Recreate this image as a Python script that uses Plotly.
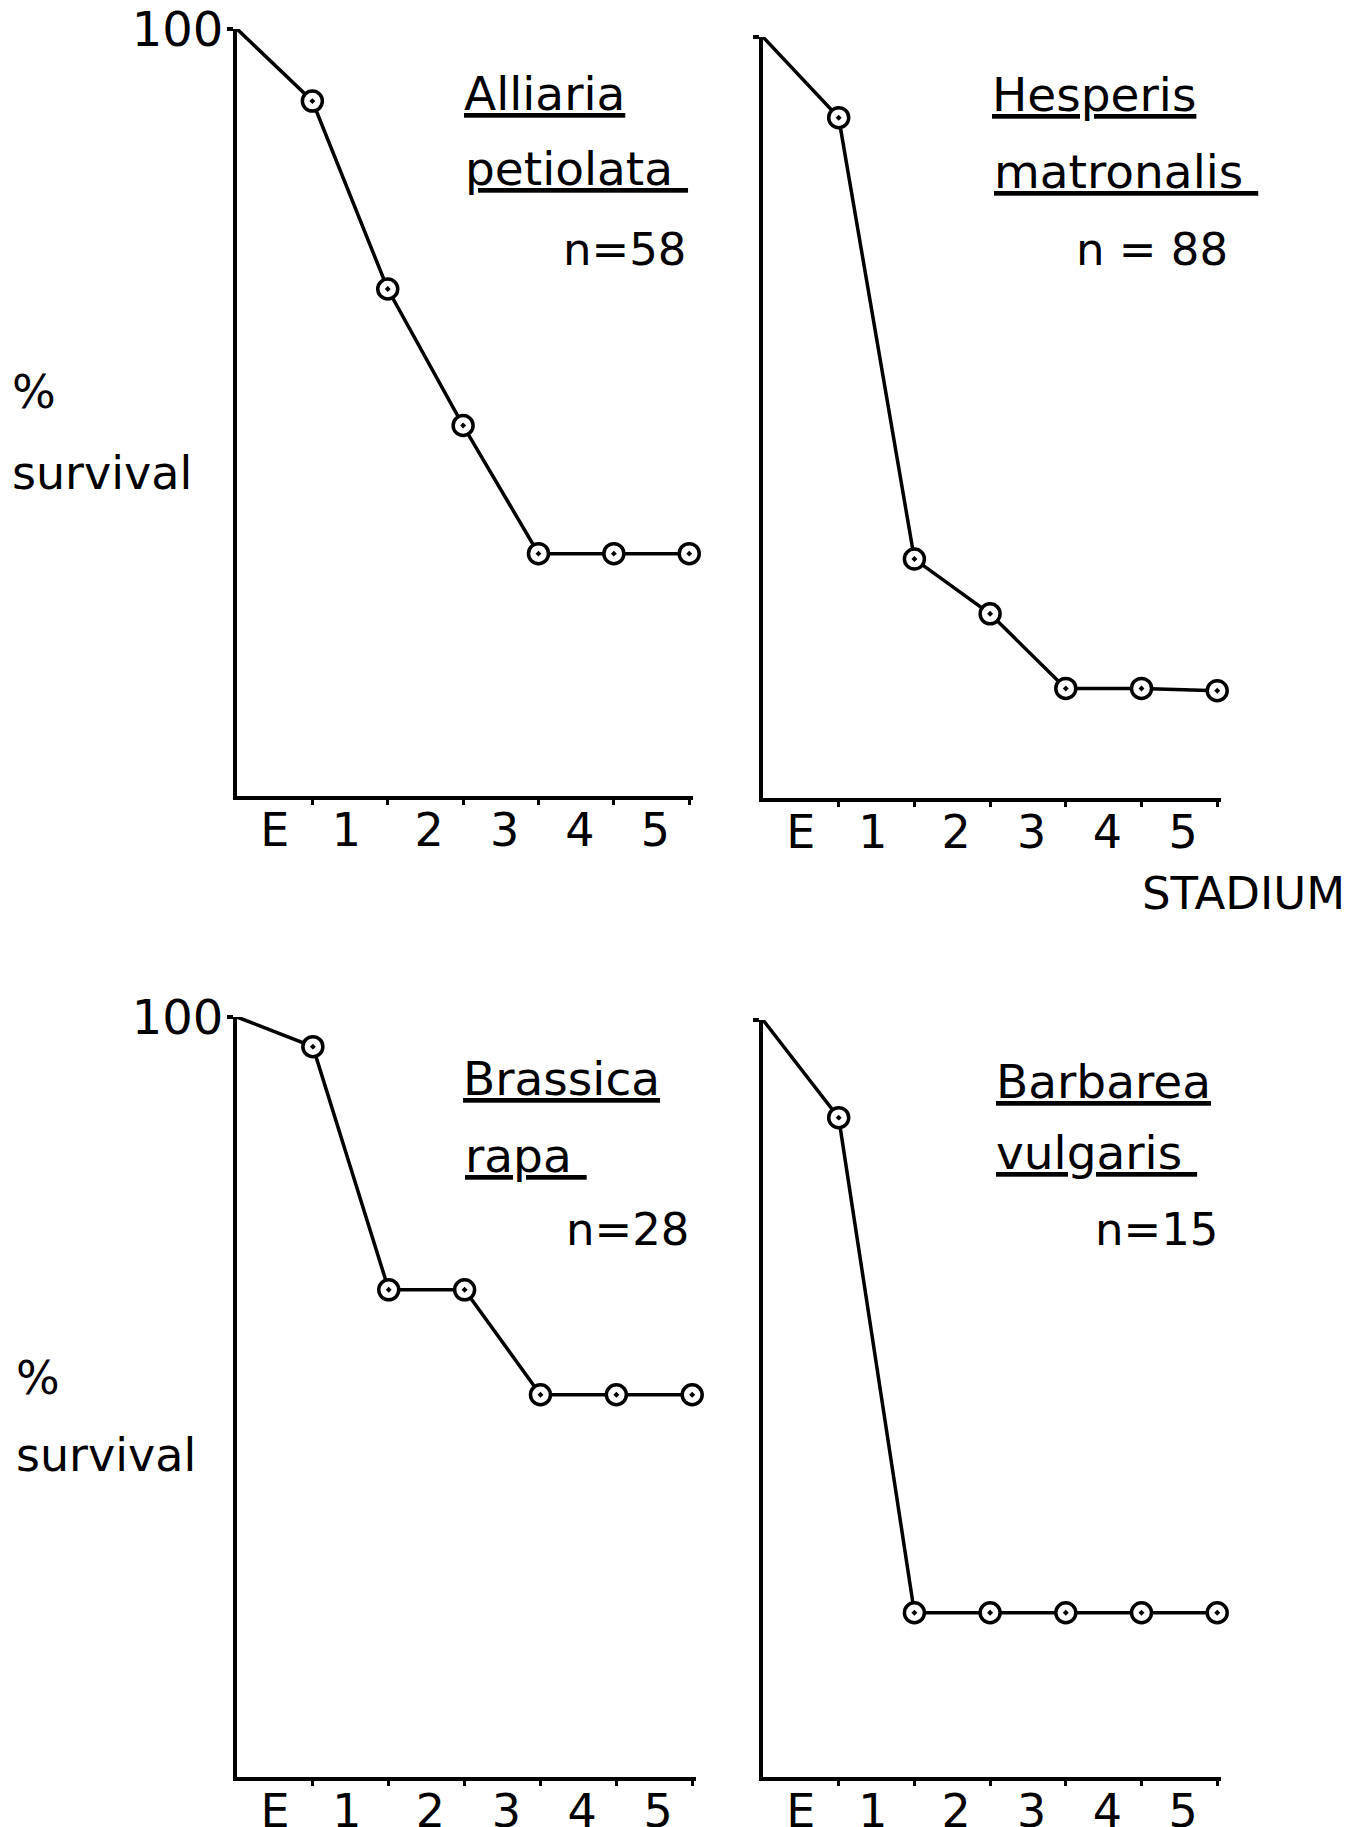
import plotly.graph_objects as go

# page has an 8px body margin; figure is sized to fit the window
OFF = 8
W, H = 1368 - OFF, 1827 - OFF

# ---------------- data ----------------
stage_labels = ["E", "1", "2", "3", "4", "5"]
stage_label_pos = [0.5, 1.45, 2.55, 3.55, 4.55, 5.55]
stage_bounds = [0, 1, 2, 3, 4, 5, 6]

genus = ["Alliaria", "Hesperis", "Brassica", "Barbarea"]
epithet = ["petiolata ", "matronalis ", "rapa ", "vulgaris "]
sample_size = ["n=58", "n = 88", "n=28", "n=15"]

alliaria = [100, 90.6, 66.1, 48.3, 31.6, 31.6, 31.6]
hesperis = [100, 89.4, 31.4, 24.2, 14.4, 14.4, 14.1]
brassica = [100, 96.1, 64.1, 64.1, 50.3, 50.3, 50.3]
barbarea = [100, 87.1, 21.7, 21.7, 21.7, 21.7, 21.7]
series = [alliaria, hesperis, brassica, barbarea]

# ---------------- layout helpers (pixel boxes in window coords) ----------------
panels = [
    dict(x0=237, x1=693, y0=29, y1=796),
    dict(x0=763, x1=1221, y0=37, y1=798),
    dict(x0=237, x1=696, y0=1017, y1=1777),
    dict(x0=763, x1=1221, y0=1020, y1=1777),
]
text_pos = [
    dict(g=(462, 93), e=(463, 168), n=(689, 250)),
    dict(g=(990, 95), e=(992, 171), n=(1230, 250)),
    dict(g=(461, 1078), e=(463, 1155), n=(692, 1229)),
    dict(g=(994, 1081), e=(994, 1152), n=(1221, 1229)),
]

FONT = "DejaVu Sans"


def px(x):
    return (x - OFF) / W


def py(y):
    return 1 - (y - OFF) / H


fig = go.Figure()
layout = dict(
    template="none",
    width=W, height=H, margin=dict(l=0, r=0, t=0, b=0, autoexpand=False),
    paper_bgcolor="white", plot_bgcolor="white", showlegend=False,
    font=dict(family=FONT, color="black"),
)
annotations = []

for i, (vals, p, tp) in enumerate(zip(series, panels, text_pos)):
    k = "" if i == 0 else str(i + 1)
    xa, ya = "x" + k, "y" + k
    fig.add_trace(go.Scatter(
        x=stage_bounds, y=vals, xaxis=xa, yaxis=ya, mode="lines",
        line=dict(color="black", width=3.5), cliponaxis=False, hoverinfo="skip"))
    fig.add_trace(go.Scatter(
        x=stage_bounds[1:], y=vals[1:], xaxis=xa, yaxis=ya, mode="markers",
        marker=dict(symbol="circle-dot", size=20, color="white",
                    line=dict(color="black", width=3.5)),
        cliponaxis=False, hoverinfo="skip"))
    left = i % 2 == 0
    layout["xaxis" + k] = dict(
        domain=[px(p["x0"]), px(p["x1"])], anchor=ya, range=[0, 6.05],
        automargin=False, ticklabeloverflow="allow",
        showgrid=False, zeroline=False, showline=True, linecolor="black",
        linewidth=4, tickmode="array", tickvals=stage_label_pos,
        ticktext=stage_labels, ticks="", tickfont=dict(size=46, family=FONT),
        ticklabelstandoff=-9,
        minor=dict(tickmode="array", tickvals=stage_bounds[1:], ticks="outside",
                   ticklen=5, tickwidth=3, tickcolor="black", showgrid=False),
    )
    layout["yaxis" + k] = dict(
        domain=[py(p["y1"]), py(p["y0"])], anchor=xa, range=[0, 100],
        automargin=False, ticklabeloverflow="allow",
        showgrid=False, zeroline=False, showline=True, linecolor="black",
        linewidth=4, tickmode="array", tickvals=[100], ticktext=["100"],
        ticks="outside", ticklen=6, tickwidth=4, tickcolor="black",
        showticklabels=left, tickfont=dict(size=48, family=FONT),
        ticklabelstandoff=-6,
    )
    annotations.append(dict(
        text="<u>" + genus[i] + "</u>", x=px(tp["g"][0]), y=py(tp["g"][1]),
        xref="paper", yref="paper", xanchor="left", yanchor="middle",
        showarrow=False, font=dict(size=47, family=FONT)))
    annotations.append(dict(
        text="<u>" + epithet[i] + "</u>", x=px(tp["e"][0]), y=py(tp["e"][1]),
        xref="paper", yref="paper", xanchor="left", yanchor="middle",
        showarrow=False, font=dict(size=47, family=FONT)))
    annotations.append(dict(
        text=sample_size[i], x=px(tp["n"][0]), y=py(tp["n"][1]),
        xref="paper", yref="paper", xanchor="right", yanchor="middle",
        showarrow=False, font=dict(size=45, family=FONT)))

# y-axis titles and x title
for (xp, yp), t in [((10, 392), "%"), ((10, 473), "survival"),
                    ((14, 1378), "%"), ((14, 1455), "survival")]:
    annotations.append(dict(text=t, x=px(xp), y=py(yp), xref="paper", yref="paper",
                            xanchor="left", yanchor="middle", showarrow=False,
                            font=dict(size=46, family=FONT)))
annotations.append(dict(text="STADIUM", x=px(1140), y=py(894), xref="paper",
                        yref="paper", xanchor="left", yanchor="middle",
                        showarrow=False, font=dict(size=45, family=FONT)))

layout["annotations"] = annotations
fig.update_layout(**layout)
fig.write_html("out.html")
